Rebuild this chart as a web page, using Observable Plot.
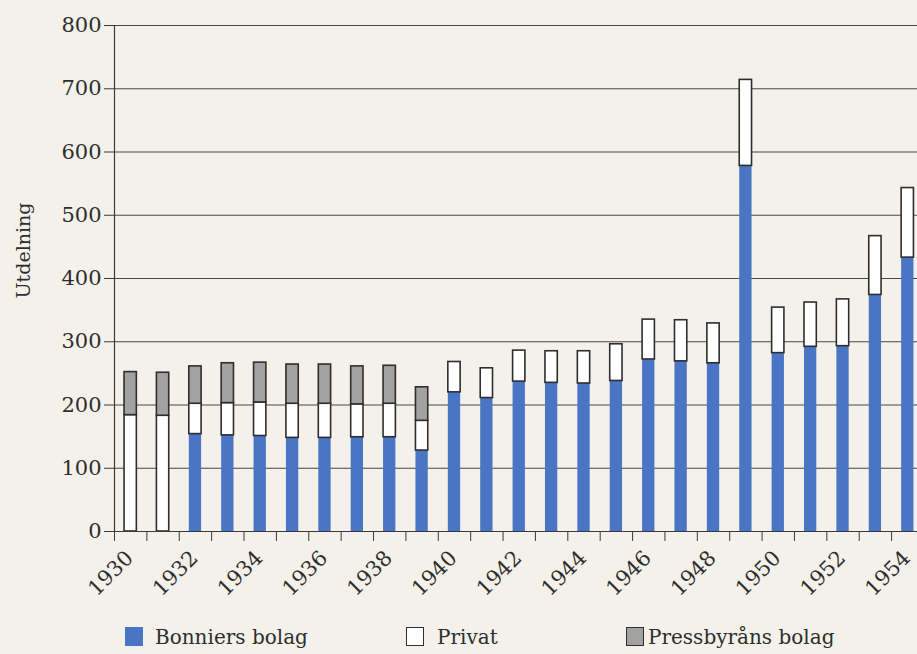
<!DOCTYPE html>
<html>
<head>
<meta charset="utf-8">
<script src="https://cdn.jsdelivr.net/npm/d3@7"></script>
<script src="https://cdn.jsdelivr.net/npm/@observablehq/plot@0.6"></script>
<style>
  html, body { margin: 0; padding: 0; background: #f3f1ea; }
  #wrap { position: relative; width: 917px; height: 654px; overflow: hidden; font-family: "DejaVu Serif", serif; color: #2e2e2e; }
  #chart svg { display: block; }
  .sw { position: absolute; width: 18px; height: 19px; box-sizing: border-box; }
  .lt { position: absolute; font-size: 20px; line-height: 20px; white-space: nowrap; }
</style>
</head>
<body>
<div id="wrap">
  <div id="chart"></div>
  <div id="legend"></div>
</div>
<script>
// ---- data ----
const years = [1930, 1931, 1932, 1933, 1934, 1935, 1936, 1937, 1938, 1939,
               1940, 1941, 1942, 1943, 1944, 1945, 1946, 1947, 1948, 1949,
               1950, 1951, 1952, 1953, 1954];
const bonniers = [0, 0, 154, 152, 151, 148, 148, 149, 149, 128,
                  220, 211, 237, 235, 234, 238, 272, 269, 266, 578,
                  282, 292, 293, 374, 433];
const privat = [184, 183, 48, 51, 53, 54, 54, 52, 53, 47,
                48, 47, 49, 50, 51, 58, 63, 65, 63, 136,
                72, 70, 74, 93, 110];
const pressbyran = [68, 68, 59, 63, 63, 62, 62, 60, 60, 53,
                    0, 0, 0, 0, 0, 0, 0, 0, 0, 0,
                    0, 0, 0, 0, 0];
const seriesKeys = ["bonniers", "privat", "pressbyran"];
const seriesNames = ["Bonniers bolag", "Privat", "Pressbyråns bolag"];
const yTicks = [0, 100, 200, 300, 400, 500, 600, 700, 800];
const xLabelYears = [1930, 1932, 1934, 1936, 1938, 1940, 1942, 1944, 1946, 1948, 1950, 1952, 1954];
const yLabel = "Utdelning";

// ---- styles ----
const BLUE = "#4a74c4";
const GRAY = "#a2a2a2";
const WHITE = "#ffffff";
const INK = "#2e2e2e";
const fills = {bonniers: BLUE, privat: WHITE, pressbyran: GRAY};

// ---- build stacked segments ----
const table = years.map((year, i) => ({year, bonniers: bonniers[i], privat: privat[i], pressbyran: pressbyran[i]}));
const stacked = d3.stack().keys(seriesKeys)(table);
const segs = stacked.flatMap(s => s.map(d => ({key: s.key, year: d.data.year, y1: d[0], y2: d[1]})))
  .filter(d => d.y2 > d.y1);
const half = 0.19;
const boundaries = years.map(y => y - 0.5).concat([years[years.length - 1] + 0.5]);

const chart = Plot.plot({
  width: 917,
  height: 615,
  marginTop: 25,
  marginBottom: 84,
  marginLeft: 114,
  marginRight: 0,
  style: {background: "transparent", fontFamily: "DejaVu Serif", fontSize: "21px", color: INK, overflow: "hidden"},
  x: {type: "linear", domain: [1929.5, 1954.3]},
  y: {domain: [0, 800]},
  marks: [
    Plot.ruleY(yTicks, {stroke: "#474747", strokeWidth: 1}),
    Plot.rect(segs.filter(d => d.key === "bonniers"), {
      x1: d => d.year - half, x2: d => d.year + half, y1: "y1", y2: "y2", fill: BLUE
    }),
    Plot.rect(segs.filter(d => d.key !== "bonniers"), {
      x1: d => d.year - half, x2: d => d.year + half, y1: "y1", y2: "y2",
      fill: d => fills[d.key], stroke: INK, strokeWidth: 1.6
    }),
    Plot.ruleX([1929.5], {stroke: "#3a3a3a", strokeWidth: 1.2}),
    Plot.ruleY([0], {stroke: "#3a3a3a", strokeWidth: 1.2}),
    Plot.axisY({ticks: yTicks, tickSize: 10, tickPadding: 3, label: null, stroke: "#3a3a3a"}),
    Plot.axisX({ticks: boundaries, tickSize: 10, tickFormat: () => "", label: null, stroke: "#3a3a3a"}),
    Plot.axisX({ticks: xLabelYears, tickSize: 0, tickRotate: -45, tickPadding: 20, dx: -1, dy: 3, tickFormat: d => String(d), label: null}),
    Plot.text([yLabel], {text: d => d, frameAnchor: "left", textAnchor: "middle", dx: -91, dy: -28, rotate: -90, fontSize: 19, fill: INK})
  ]
});
document.getElementById("chart").appendChild(chart);

// ---- legend ----
const legend = document.getElementById("legend");
const legendPos = [
  {sw: 125, tx: 155},
  {sw: 406, tx: 437},
  {sw: 626, tx: 648}
];
seriesKeys.forEach((k, i) => {
  const sw = document.createElement("div");
  sw.className = "sw";
  sw.style.left = legendPos[i].sw + "px";
  sw.style.top = "627px";
  sw.style.background = fills[k];
  if (k !== "bonniers") sw.style.border = "1.6px solid " + INK;
  legend.appendChild(sw);
  const t = document.createElement("div");
  t.className = "lt";
  t.style.left = legendPos[i].tx + "px";
  t.style.top = "627px";
  t.textContent = seriesNames[i];
  legend.appendChild(t);
});
</script>
</body>
</html>
